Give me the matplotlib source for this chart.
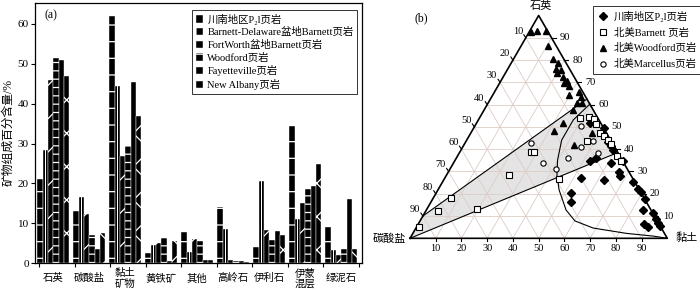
import numpy as np
import matplotlib.pyplot as plt
from matplotlib.patches import Patch, Polygon
from matplotlib.lines import Line2D

plt.rcParams['font.family'] = ['Liberation Serif', 'DejaVu Serif', 'Noto Sans CJK SC']
plt.rcParams['hatch.linewidth'] = 0.9

# ---- (a) 矿物组成对比 ----
minerals = ['石英', '碳酸盐', '黏土\n矿物', '黄铁矿', '其他', '高岭石', '伊利石', '伊蒙\n混层', '绿泥石']
shale_names = ['川南地区P₂l页岩', 'Barnett-Delaware盆地Barnett页岩', 'FortWorth盆地Barnett页岩',
               'Woodford页岩', 'Fayetteville页岩', 'New Albany页岩']
chuannan = [21, 13, 62, 2.5, 7.8, 14, 4.2, 34.5, 9.2]
barnett_delaware = [28.5, 16.5, 44.5, 4.5, 2.8, 8.7, 20.6, 11.2, 3.4]
fortworth = [46, 12.3, 27, 5.2, 6, 0.8, 8.3, 15, 2]
woodford = [51.5, 7.2, 29.5, 6.4, 5.5, 0.6, 5.8, 18.6, 3.7]
fayetteville = [51, 3.6, 45.5, 0.6, 0.8, 0.6, 8.2, 19.3, 16.2]
new_albany = [47, 7.7, 37, 5.5, 0.8, 0.4, 7, 25, 3.5]

# ---- (b) 三角图: 黏土%, 石英% (碳酸盐 = 100 - 两者) ----
cn_clay = [44.2, 50.5, 55.5, 57.3, 59.1, 52.7, 54.3, 61.2, 65.5, 66.5, 67.9, 52.9, 62.3,
           73.8, 77.5, 79.3, 52.5, 54.5, 82.4, 84.3, 88.6, 91.3, 93, 87.7, 90.1, 94.5]
cn_quartz = [51.9, 49.5, 43.2, 41.3, 39.6, 34.6, 35.9, 33.8, 34.5, 29.8, 27.8, 27.2, 26.3,
             25.4, 22, 20.7, 20.2, 16.1, 17.6, 12.8, 11.4, 8.7, 7, 6.2, 5.1, 5.5]
bn_clay = [1, 4.9, 6.8, 19.7, 24.3, 27.6, 28.6, 44.8, 39.1, 42.4, 44.8, 46.6, 50, 52.4,
           54.8, 46.8, 56.7, 62, 64.4]
bn_quartz = [5.2, 12.3, 18.2, 13, 28.5, 38.9, 38.9, 26.5, 53.9, 54.6, 53.4, 51.3, 47.3, 45.9,
             44.1, 43.7, 42.5, 36.9, 34.9]
wf_clay = [1, 3, 6.5, 10.5, 15.5, 18.3, 18.9, 21, 19.9, 23.2, 25.7, 25.1, 27.6, 29.6, 33,
           34.6, 34.7, 36.5, 34.7, 33.7, 31.9, 47.1, 43]
wf_quartz = [92.4, 93, 93, 86.3, 80.5, 78.7, 76, 75.5, 74.2, 72.6, 70.6, 69.5, 68.4, 64.1,
             65.7, 63.4, 60.7, 60.7, 57.6, 51.8, 48.2, 47.1, 41.7]
mc_clay = [25.8, 34.8, 41.2, 43.6, 41.3, 46, 49.3, 54]
mc_quartz = [42.6, 33.6, 31, 35.9, 50.6, 41, 43.8, 38.3]

# 分区线与边界曲线
upper_clay = [0, 37.5]
upper_quartz = [10, 62.5]
lower_clay = [0, 61.5]
lower_quartz = [0, 38.5]
curve_clay = [39.8, 36.9, 36.9, 39.8, 42.9, 47.1, 54.3, 60.2, 68.9, 83.1, 94, 100]
curve_quartz = [60.3, 53.1, 44.1, 35.1, 28.4, 21.7, 12.7, 7.8, 4.6, 2.2, 1, 0]
ticks_pct = [10, 20, 30, 40, 50, 60, 70, 80, 90]

fig = plt.figure(figsize=(7, 2.9), dpi=100)

ax = fig.add_axes([35/700, 26.7/290, 327/700, 260.6/290])
series = [chuannan, barnett_delaware, fortworth, woodford, fayetteville, new_albany]
hatches = ['-', '', '/', '--', '', 'x']
x = np.arange(len(minerals))
w = 0.148
for j, vals in enumerate(series):
    ax.bar(x + (j - 2.5) * w, vals, width=w, color='black', edgecolor='white',
           hatch=hatches[j], linewidth=0.3)
# Barnett-Delaware 白色竖纹
ax.bar(x + (1 - 2.5) * w, barnett_delaware, width=w * 0.15, color='white', linewidth=0)

ax.set_xlim(-0.508, 8.575)
ax.set_ylim(0, 65.3)
ax.set_yticks([0, 10, 20, 30, 40, 50, 60])
ax.set_xticks(np.arange(10) * 0.986 - 0.39)
ax.set_xticklabels([])
ax.tick_params(axis='x', length=3, width=0.8, direction='out')
ax.tick_params(axis='y', length=3, width=0.8, labelsize=8, pad=1.5)
for xi, name in zip(x, minerals):
    ax.text(xi, -0.058, name, transform=ax.get_xaxis_transform(), ha='center', va='center',
            fontsize=7.5, linespacing=1.0)
for s in ax.spines.values():
    s.set_linewidth(0.9)
ax.set_ylabel('矿物组成百分含量/%', fontsize=8.5, labelpad=2)
ax.text(0.03, 0.975, '(a)', transform=ax.transAxes, fontsize=8.5, va='top')

handles = []
leg_hatch = ['-', '||', '/', '--', '', 'x']
for j in range(6):
    handles.append(Patch(facecolor='black', edgecolor='white', hatch=leg_hatch[j], linewidth=0.3))
leg = ax.legend(handles, shale_names, loc='upper left',
                bbox_to_anchor=((192.3 - 35) / 327, 1 - (10 - 2.7) / 260.6),
                borderaxespad=0, fontsize=7.5, frameon=True, fancybox=False,
                handlelength=0.7, handleheight=0.7, handletextpad=0.4,
                labelspacing=0.25, borderpad=0.35)
leg.get_frame().set_edgecolor('black')
leg.get_frame().set_linewidth(0.7)

# ---- 三角图 ----
tax = fig.add_axes([362/700, 0, 338/700, 1])
tax.set_xlim(-0.1866, 1.1271)
tax.set_ylim(-0.2009, 0.9262)
tax.axis('off')
hgt = np.sqrt(3) / 2


def tern(clay, quartz):
    c = np.asarray(clay, dtype=float) / 100
    q = np.asarray(quartz, dtype=float) / 100
    return c + q / 2, q * hgt


# 阴影区
sx1, sy1 = tern(upper_clay, upper_quartz)
sx2, sy2 = tern(lower_clay, lower_quartz)
shade = Polygon([(sx2[0], sy2[0]), (sx1[0], sy1[0]), (sx1[1], sy1[1]), (sx2[1], sy2[1])],
                closed=True, facecolor='#e4e4e4', edgecolor='none', zorder=0)
tax.add_patch(shade)

grid_c = '#dccdc5'
for t in ticks_pct:
    for a, b in [(tern([0, 100 - t], [t, t])), (tern([t, t], [0, 100 - t])),
                 (tern([0, 100 - t], [100 - t, 0]))]:
        tax.plot(a, b, color=grid_c, lw=0.6, zorder=1)

ex, ey = tern([0, 100, 0, 0], [0, 0, 100, 0])
tax.plot(ex, ey, color='black', lw=1.2, zorder=3)

tax.plot(sx1, sy1, color='black', lw=0.8, zorder=3)
tax.plot(sx2, sy2, color='black', lw=0.8, zorder=3)
cx, cy = tern(curve_clay, curve_quartz)
tax.plot(cx, cy, color='black', lw=0.8, zorder=3)

# 刻度与标签
d = 1 / 257.3
for t in ticks_pct:
    bx, by = tern(t, 0)
    tax.plot([bx, bx], [by, by - 3 * d], color='black', lw=0.8)
    tax.text(bx, by - 10 * d, str(t), ha='center', va='center', fontsize=7.5)
    rx, ry = tern(100 - t, t)
    tax.plot([rx, rx + 4 * d], [ry, ry], color='black', lw=0.8)
    tax.text(rx + 13.5 * d, ry, str(t), ha='center', va='center', fontsize=7.5)
    lx, ly = tern(0, 100 - t)
    tax.plot([lx, lx - 2 * d], [ly, ly + 3 * d], color='black', lw=0.8)
    tax.text(lx - 8 * d, ly + 6.5 * d, str(t), ha='center', va='center', fontsize=7.5)

tax.text(0.509, 0.903, '石英', ha='center', va='center', fontsize=8)
tax.text(-0.082, -0.003, '碳酸盐', ha='center', va='center', fontsize=8)
tax.text(1.075, 0.001, '黏土', ha='center', va='center', fontsize=8)
tax.text(0.045, 0.855, '(b)', ha='center', va='center', fontsize=8.5)

px, py = tern(cn_clay, cn_quartz)
tax.plot(px, py, 'D', ms=4, mfc='black', mec='black', ls='none', zorder=5)
px, py = tern(bn_clay, bn_quartz)
tax.plot(px, py, 's', ms=3.8, mfc='white', mec='black', mew=0.8, ls='none', zorder=5)
px, py = tern(wf_clay, wf_quartz)
tax.plot(px, py, '^', ms=4.5, mfc='black', mec='black', ls='none', zorder=5)
px, py = tern(mc_clay, mc_quartz)
tax.plot(px, py, 'o', ms=3.8, mfc='white', mec='black', mew=0.8, ls='none', zorder=5)

thandles = [Line2D([], [], marker='D', ms=4, color='black', ls='none'),
            Line2D([], [], marker='s', ms=3.8, mfc='white', mec='black', mew=0.8, ls='none'),
            Line2D([], [], marker='^', ms=4.5, color='black', ls='none'),
            Line2D([], [], marker='o', ms=3.8, mfc='white', mec='black', mew=0.8, ls='none')]
tlabels = ['川南地区P₂l页岩', '北美Barnett 页岩', '北美Woodford页岩', '北美Marcellus页岩']
tleg = tax.legend(thandles, tlabels, loc='upper left',
                  bbox_to_anchor=((592.7 - 362) / 338, 1 - 6 / 290), borderaxespad=0,
                  fontsize=7.5, frameon=True, fancybox=False, handlelength=1.0,
                  handletextpad=0.6, labelspacing=0.55, borderpad=0.45)
tleg.get_frame().set_edgecolor('black')
tleg.get_frame().set_linewidth(0.7)

fig.savefig('out.png', dpi=100)
